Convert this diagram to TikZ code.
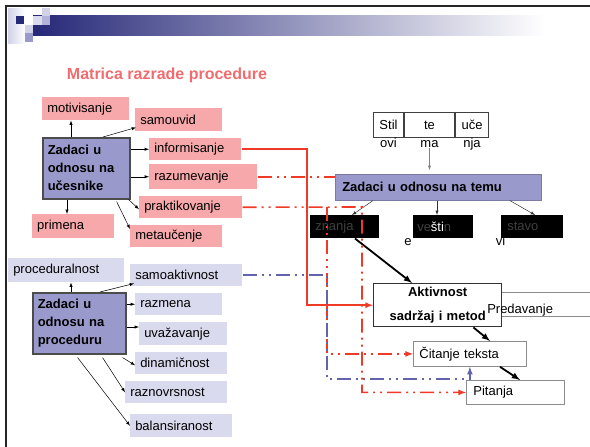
\documentclass[tikz,border=0pt]{standalone}
\usepackage{fontspec}
\setmainfont{Liberation Sans}
\usetikzlibrary{arrows, positioning}

\definecolor{pinkbox}{RGB}{246,168,170}
\definecolor{lilacbox}{RGB}{218,218,238}
\definecolor{taskbox}{RGB}{153,153,204}
\definecolor{navyband}{RGB}{38,40,120}
\definecolor{redlink}{RGB}{240,58,40}
\definecolor{bluelink}{RGB}{100,100,172}
\definecolor{titlered}{RGB}{240,108,110}

\begin{document}
\begin{tikzpicture}[x=1pt,y=-1pt,font=\fontsize{13}{16}\selectfont,>=latex,line width=0.5pt]

	\tikzset{node pink/.style={anchor=north west, fill=pinkbox,
			inner xsep=5pt, inner ysep=0pt, minimum height=22pt, align=left}}
	\tikzset{node lilac/.style={node pink, fill=lilacbox}}
	\tikzset{node task/.style={anchor=north west, fill=taskbox, draw=black!70,
			line width=1.6pt, inner xsep=5pt, inner ysep=0pt, align=left,
			font=\bfseries\fontsize{13}{18}\selectfont}}
	\tikzset{node dark/.style={anchor=north west, fill=black, text=black!75!white,
			inner xsep=5pt, inner ysep=0pt, minimum height=23pt, align=left}}
	\tikzset{node plain/.style={anchor=north west, fill=white, draw=black!45,
			line width=0.8pt, inner xsep=6pt, inner ysep=0pt, minimum height=25pt, align=left}}
	\tikzset{node cell/.style={anchor=north west, draw=black!75, line width=1pt,
			inner sep=0pt, minimum height=25pt}}
	\tikzset{link red/.style={draw=redlink, line width=1.6pt}}
	\tikzset{link blue/.style={draw=bluelink, line width=1.6pt}}
	\tikzset{dashdots/.style={dash pattern=on 14pt off 5pt on 2pt off 5pt on 2pt off 5pt}}
	\tikzset{thick arrow/.style={->, line width=1.8pt}}

	\useasboundingbox (0,0) rectangle (590,447);

	% slide frame and header band
	\shade[left color=navyband, middle color=navyband!35!white, right color=white] (33,15) rectangle (545,35);
	\shade[left color=taskbox!45!white, right color=white] (8,8) rectangle (25,43);
	\fill[navyband] (16,16) rectangle (24,24);
	\fill[lilacbox] (33,16) rectangle (42,25);
	\fill[taskbox!75!white] (42,16) rectangle (50,25);
	\fill[taskbox!45!white] (42,8) rectangle (50,16);
	\fill[taskbox!45!white] (25,25) rectangle (33,33);
	\fill[taskbox] (25,33) rectangle (33,42);
	\draw[black!85, line width=2pt] (6,447) -- (6,6) -- (590,6);

	\node[font=\bfseries\fontsize{16}{19}\selectfont, text=titlered] (title) at (167,75) {Matrica razrade procedure};

	% participants
	\node[node task, text width=77pt, minimum height=61pt] (ucesnici) at (42,137) {Zadaci u\\odnosu na\\učesnike};
	\node[node pink, text width=77pt, minimum height=23pt] (motiv) at (42,97) {motivisanje};
	\node[node pink, text width=77pt, minimum height=23pt] (samouvid) at (135,108) {samouvid};
	\node[node pink, text width=82pt] (inform) at (149,138) {informisanje};
	\node[node pink, text width=98pt, minimum height=25pt] (razum) at (149,164) {razumevanje};
	\node[node pink, text width=93pt] (prakt) at (139,196) {praktikovanje};
	\node[node pink, text width=72pt, minimum height=24pt] (primena) at (32,214) {primena};
	\node[node pink, text width=82pt] (meta) at (130,225) {metaučenje};

	% procedure
	\node[node task, text width=83pt, minimum height=61pt] (postupak) at (32,292) {Zadaci u\\odnosu na\\proceduru};
	\node[node lilac, text width=106pt, minimum height=24pt] (proced) at (8,258) {proceduralnost};
	\node[node lilac, text width=102pt] (samoakt) at (130,264) {samoaktivnost};
	\node[node lilac, text width=77pt] (razmena) at (135,293) {razmena};
	\node[node lilac, text width=78pt, minimum height=23pt] (uvaz) at (139,322) {uvažavanje};
	\node[node lilac, text width=82pt] (dinam) at (135,352) {dinamičnost};
	\node[node lilac, text width=92pt] (raznov) at (125,381) {raznovrsnost};
	\node[node lilac, text width=92pt, minimum height=23pt] (balans) at (130,414) {balansiranost};

	% topic
	\node[node cell, minimum width=30pt] (stil) at (373,112) {Stil};
	\node[node cell, minimum width=50pt, right=0pt of stil] (tema) {te};
	\node[node cell, minimum width=33pt, right=0pt of tema] (uce) {uče};
	\node[anchor=base, inner sep=0pt] (ovi) at (stil.south |- 0,147.5) {ovi};
	\node[anchor=base, inner sep=0pt] (ma) at (tema.south |- 0,147.5) {ma};
	\node[anchor=base, inner sep=0pt] (nja) at (uce.south |- 0,147.5) {nja};

	\node[node task, draw=taskbox!80!black, line width=0.6pt, inner xsep=7pt, text width=192pt,
		minimum height=26pt, font=\bfseries\fontsize{13}{16}\selectfont] (temu) at (335,174) {Zadaci u odnosu na temu};

	\node[node dark, text width=59pt] (znanja) at (310,215) {znanja};
	\node[node dark, inner xsep=4pt, text width=52pt] (vestin) at (413,215) {ve{\color{white}šti}n};
	\node[node dark, inner xsep=6pt, text width=50pt] (stavo) at (501,215) {stavo};
	\node[anchor=base, inner sep=0pt] (vestine) at (408,245) {e};
	\node[anchor=base, inner sep=0pt] (stavovi) at (500.5,245) {vi};

	% activities
	\node[draw=black!45, line width=0.8pt, anchor=north west, minimum width=91pt,
		minimum height=24pt, inner sep=0pt] (predav) at (501,292) {};
	\node[node plain, draw=black!80, line width=1.4pt, inner xsep=5pt, text width=118pt,
		minimum height=43pt, align=center, font=\bfseries\fontsize{13}{24}\selectfont] (aktiv) at (373,283) {Aktivnost\\sadržaj i metod};
	\node[anchor=base west, inner sep=0pt] (predavtext) at (487,313) {Predavanje};
	\node[node plain, text width=101pt] (citanje) at (413,341) {Čitanje teksta};
	\node[node plain, inner xsep=7pt, text width=84pt, minimum height=24pt] (pitanja) at (466,380) {Pitanja};

	% arrows from participants
	\draw[->] ([xshift=29pt]ucesnici.north west) -- ([xshift=29pt]ucesnici.north west |- motiv.south);
	\draw[->] ([xshift=61pt]ucesnici.north west) -- ([xshift=1pt,yshift=4pt]samouvid.south west);
	\draw[->] (ucesnici.east |- inform.west) -- (inform.west);
	\draw[->] (ucesnici.east |- razum.west) -- (razum.west);
	\draw[->] ([xshift=-2pt]ucesnici.south east) -- ([yshift=-2pt]prakt.west);
	\draw[->] ([xshift=25pt]ucesnici.south west) -- ([xshift=25pt]ucesnici.south west |- primena.north);
	\draw[->] ([xshift=-14pt,yshift=-2pt]ucesnici.south east) -- ([yshift=-4pt]meta.north west);

	% arrows from procedure
	\draw[->] ([xshift=39pt]postupak.north west) -- ([xshift=39pt]postupak.north west |- proced.south);
	\draw[->] ([xshift=68pt]postupak.north west) -- ([xshift=4pt,yshift=3pt]samoakt.south west);
	\draw[->] (postupak.east |- razmena.west) -- (razmena.west);
	\draw[->] (postupak.east |- 0,327) -- (uvaz.west |- 0,327);
	\draw[->] ([xshift=-4pt,yshift=-3pt]postupak.south east) -- ([yshift=-2pt]dinam.west);
	\draw[->] ([xshift=-24pt,yshift=-3pt]postupak.south east) -- (raznov.west);
	\draw[->] ([xshift=-49pt,yshift=-3pt]postupak.south east) -- (balans.west);

	% arrows of the topic
	\draw[->, draw=black!50] (ma.south) -- (ma.south |- 0,170);
	\draw[->, draw=black!80] ([xshift=38pt]temu.south west) -- ([xshift=42pt]znanja.north west);
	\draw[->, draw=black!80] ([xshift=102pt]temu.south west) -- ([xshift=102pt]temu.south west |- vestin.north);
	\draw[->, draw=black!80] ([xshift=175pt]temu.south west) -- ([xshift=34pt]stavo.north west);
	\draw[thick arrow] ([xshift=45pt]znanja.south west) -- ([xshift=39pt]aktiv.north west);
	\draw[thick arrow] ([xshift=-29pt]aktiv.south east) -- ([xshift=77pt]citanje.north west);
	\draw[thick arrow] ([xshift=87pt]citanje.south west) -- ([xshift=54pt]pitanja.north west);

	% links between the columns
	\coordinate (redbend) at (307,0);
	\coordinate (splitC) at (327,207);
	\coordinate (splitP) at (362,207);
	\coordinate (bluebend) at (327,379);
	\draw[link red, ->] (inform.east) -| (redbend |- aktiv.west) -- (aktiv.west);
	\draw[link red, dashdots] (razum.east) -- (razum.east -| temu.west);
	\draw[link red, dashdots, ->] (prakt.east) -- (splitP) |- (pitanja.west);
	\draw[link red, dashdots, ->] (splitC) |- (citanje.west);
	\draw[link blue, dashdots, ->] (samoakt.east) -| (bluebend) -| (citanje.south);

\end{tikzpicture}
\end{document}
